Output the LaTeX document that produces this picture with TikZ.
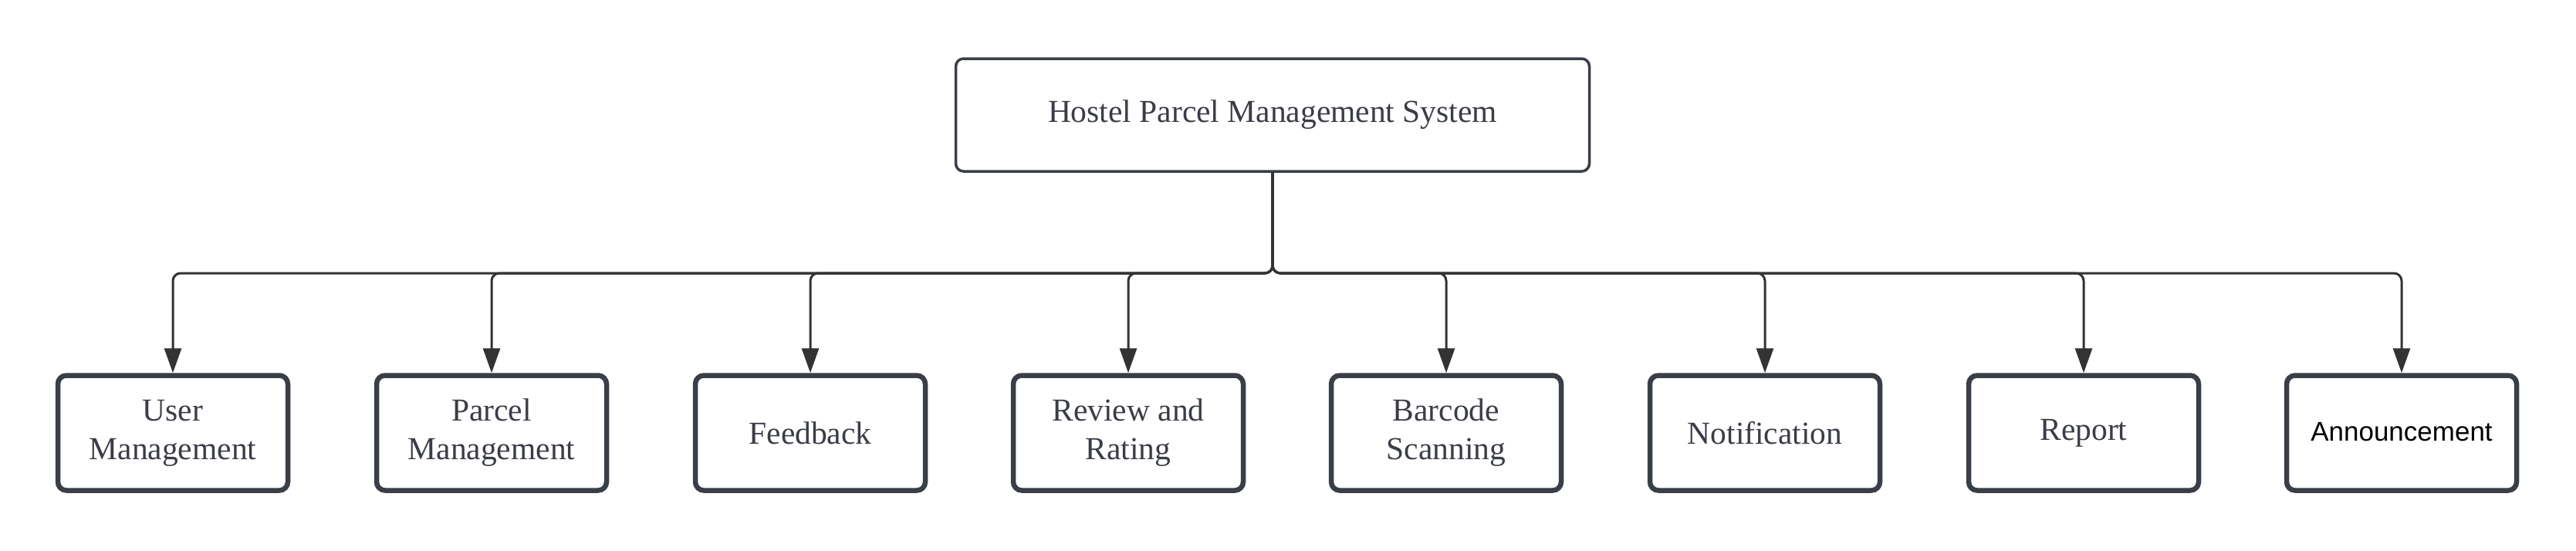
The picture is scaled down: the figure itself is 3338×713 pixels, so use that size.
\documentclass[tikz,border=0pt]{standalone}
\usepackage{fontspec}
\setmainfont{Liberation Serif}
\newfontfamily\labelsans{Liberation Sans}
\usetikzlibrary{arrows.meta,calc}
\definecolor{boxline}{HTML}{3A3E47}
\definecolor{connline}{HTML}{333333}
\definecolor{txt}{HTML}{3A3D45}
\tikzset{
  rootbox/.style={draw=boxline, line width=3.5pt, rounded corners=10pt, minimum width=821pt, minimum height=146pt, inner sep=0pt, align=center, text=txt, font=\fontsize{41.5}{50}\selectfont},
  childbox/.style={draw=boxline, line width=6.5pt, rounded corners=11pt, minimum width=298pt, minimum height=149pt, inner sep=0pt, align=center, text=txt, font=\fontsize{41.5}{50}\selectfont},
  conn/.style={draw=connline, line width=3pt, rounded corners=10pt, -{Triangle[width=22pt,length=32pt]}},
}
\begin{document}
\begin{tikzpicture}[x=1pt,y=-1pt]
\useasboundingbox (0,0) rectangle (3338,713);
\node[rootbox] (root) at (1649,149) {Hostel Parcel Management System};
\coordinate (bus) at (1649,354);
\node[childbox] (c1) at (224,561) {User\\Management};
\node[childbox] (c2) at (637,561) {Parcel\\Management};
\node[childbox] (c3) at (1050,561) {Feedback};
\node[childbox] (c4) at (1462,561) {Review and\\Rating};
\node[childbox] (c5) at (1874,561) {Barcode\\Scanning};
\node[childbox] (c6) at (2287,561) {Notification};
\node[childbox] (c7) at (2700,561) {\raisebox{-2pt}{Report}};
\node[childbox, text=black, font=\labelsans\fontsize{35}{42}\selectfont] (c8) at (3112,561) {\raisebox{4pt}{Announcement}};
\foreach \c in {c1,c2,c3,c4,c5,c6,c7,c8}{
  \draw[conn] (root.south) |- (bus -| \c.north) -- (\c.north);
}
\end{tikzpicture}
\end{document}
